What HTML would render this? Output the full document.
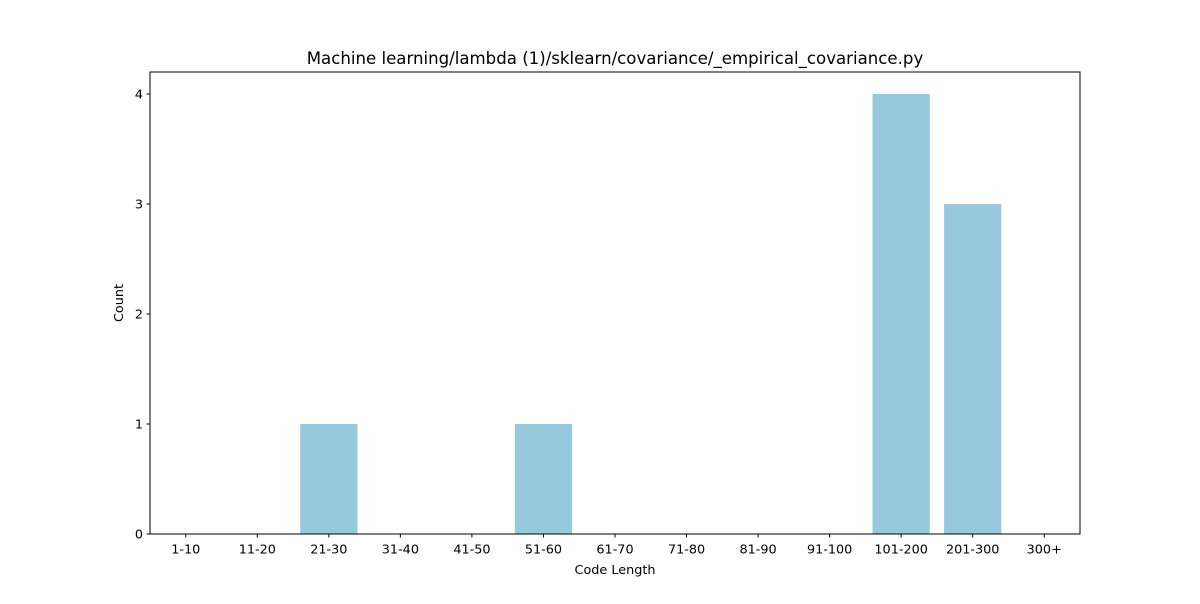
<!DOCTYPE html>
<html><head><meta charset="utf-8"><style>
body{margin:0;background:#fff;font-family:"DejaVu Sans","Liberation Sans",sans-serif;}
</style></head><body>
<svg id="chart" width="1200" height="600" xmlns="http://www.w3.org/2000/svg" font-family="DejaVu Sans, Liberation Sans, sans-serif">
</svg>
<script>
const categories=["1-10","11-20","21-30","31-40","41-50","51-60","61-70","71-80","81-90","91-100","101-200","201-300","300+"];
const counts=[0,0,1,0,0,1,0,0,0,0,4,3,0];
const yTicks=[0,1,2,3,4];
const L=150,R=1080,T=72,B=534,yMax=4.2;
const svg=document.getElementById('chart');
const NS='http://www.w3.org/2000/svg';
const xs=i=>L+(i+0.5)*(R-L)/categories.length;
const ys=v=>B-v*(B-T)/yMax;
const bw=0.8*(R-L)/categories.length;
function mk(t,a,txt){const e=document.createElementNS(NS,t);for(const k in a)e.setAttribute(k,a[k]);if(txt!==undefined)e.textContent=txt;svg.appendChild(e);return e;}
counts.forEach((v,i)=>{
 const r=mk('rect',{x:xs(i)-bw/2,y:ys(v),width:bw,height:B-ys(v),fill:'#96c9dc'});
 
 
});
const fr=mk('rect',{x:L,y:T,width:R-L,height:B-T,fill:'none',stroke:'#000','stroke-width':1});


categories.forEach((c,i)=>{
 mk('line',{x1:xs(i),x2:xs(i),y1:B,y2:B+3.5,stroke:'#000'});
 const t=mk('text',{x:xs(i),y:B+19.5,'text-anchor':'middle','font-size':12.8},c);
 
 
});
yTicks.forEach(v=>{
 mk('line',{x1:L-3.5,x2:L,y1:ys(v),y2:ys(v),stroke:'#000'});
 const t=mk('text',{x:L-7,y:ys(v)+4.5,'text-anchor':'end','font-size':12.8},v);
 
 
});
const xt=mk('text',{x:(L+R)/2,y:574,'text-anchor':'middle','font-size':12.8},'Code Length');


const yt=mk('text',{x:123,y:(T+B)/2,'text-anchor':'middle','font-size':12.8,transform:'rotate(-90 123 '+(T+B)/2+')'},'Count');


const ti=mk('text',{x:(L+R)/2,y:64,'text-anchor':'middle','font-size':16.6},'Machine learning/lambda (1)/sklearn/covariance/_empirical_covariance.py');


</script>
</body></html>
